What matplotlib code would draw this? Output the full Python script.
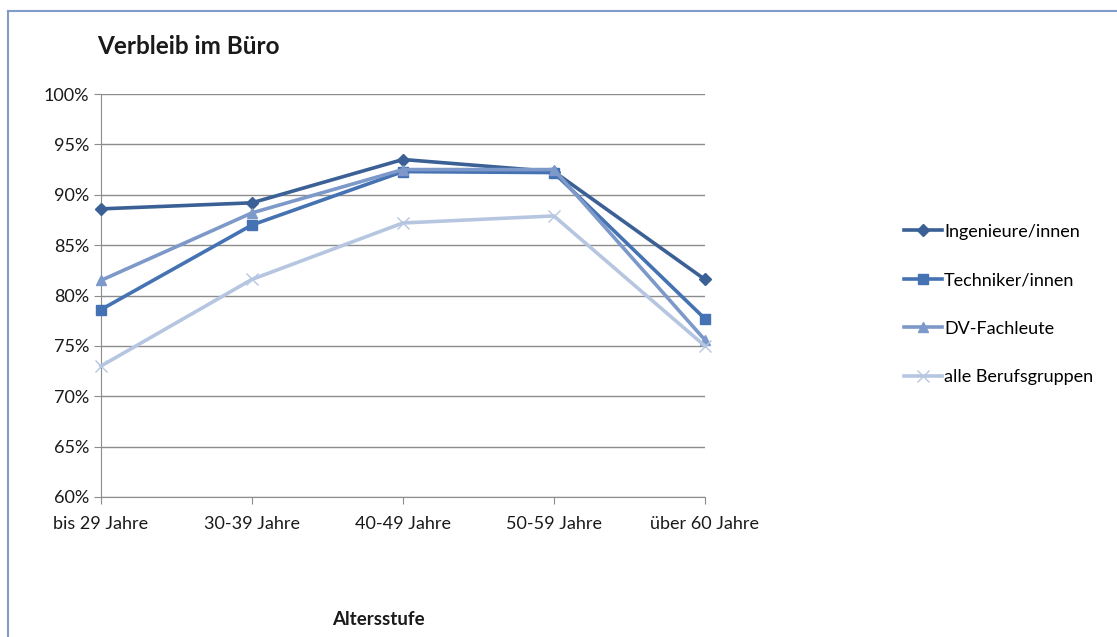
import matplotlib.pyplot as plt
from matplotlib.lines import Line2D
from matplotlib.ticker import FuncFormatter

plt.rcParams['font.family'] = ['Lato', 'DejaVu Sans']

categories = ['bis 29 Jahre', '30-39 Jahre', '40-49 Jahre', '50-59 Jahre', 'über 60 Jahre']
ingenieure = [88.6, 89.2, 93.5, 92.3, 81.6]
techniker = [78.6, 87.0, 92.3, 92.2, 77.7]
dv_fachleute = [81.5, 88.2, 92.5, 92.5, 75.6]
alle = [73.0, 81.6, 87.2, 87.9, 75.0]

series = [
    ('Ingenieure/innen', ingenieure, '#3a6096', 'D', 6),
    ('Techniker/innen', techniker, '#4472b2', 's', 7),
    ('DV-Fachleute', dv_fachleute, '#7d99c9', '^', 7),
    ('alle Berufsgruppen', alle, '#b6c6e1', 'x', 8),
]

fig = plt.figure(figsize=(11.17, 6.37), dpi=100)
ax = fig.add_axes([0.0904, 0.2198, 0.5406, 0.6326])

x = list(range(len(categories)))
for label, vals, col, mk, ms in series:
    ax.plot(x, vals, color=col, marker=mk, markersize=ms, linewidth=2.6,
            label=label, clip_on=False, zorder=3)

ax.set_xlim(0, 4)
ax.set_ylim(60, 100)
ax.set_yticks(range(60, 101, 5))
ax.yaxis.set_major_formatter(FuncFormatter(lambda v, p: f'{int(v)}%'))
ax.set_xticks(x)
ax.set_xticklabels(categories)
ax.grid(axis='y', color='#8c8c8c', linewidth=1.0)
ax.set_axisbelow(True)
for s in ['top', 'right']:
    ax.spines[s].set_visible(False)
for s in ['left', 'bottom']:
    ax.spines[s].set_color('#8c8c8c')
ax.tick_params(axis='both', colors='#8c8c8c', labelcolor='#1a1a1a',
               labelsize=13, length=5)
ax.tick_params(axis='x', pad=9)

fig.text(0.0868, 0.927, 'Verbleib im Büro', fontsize=17.5, fontweight='bold',
         color='#1a1a1a', va='center', ha='left')
fig.text(0.339, 0.027, 'Altersstufe', fontsize=13.5, fontweight='bold',
         color='#1a1a1a', va='center', ha='center')

handles, labels = ax.get_legend_handles_labels()
fig.legend(handles, labels, loc='center left', bbox_to_anchor=(0.795, 0.522),
           frameon=False, fontsize=13, labelspacing=1.8, handlelength=2.1,
           handletextpad=0.1)

# chart frame (left and top edges visible)
fig.add_artist(Line2D([0.0076, 0.0076], [0, 0.983], transform=fig.transFigure,
                      color='#7f9cc9', linewidth=1.5))
fig.add_artist(Line2D([0.0076, 1.0], [0.983, 0.983], transform=fig.transFigure,
                      color='#7f9cc9', linewidth=1.5))

fig.savefig('out.png', dpi=100)
